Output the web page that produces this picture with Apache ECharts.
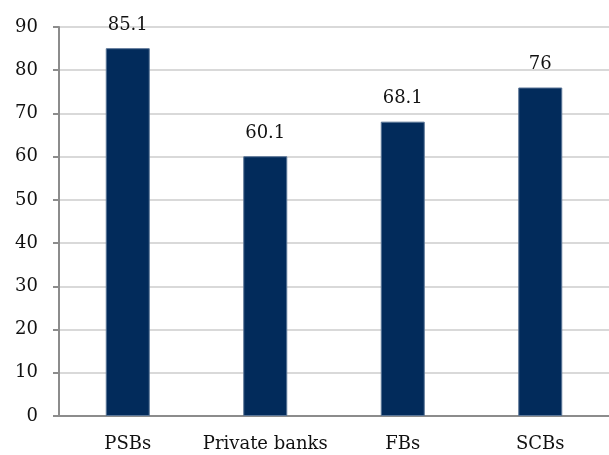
<!DOCTYPE html>
<html><head><meta charset="utf-8">
<script src="https://cdn.jsdelivr.net/npm/echarts@6/dist/echarts.min.js"></script>
<style>html,body{margin:0;padding:0;background:#fff}#c{width:609px;height:455px}</style>
</head><body><div id="c"></div>
<script>
const categories = ["PSBs", "Private banks", "FBs", "SCBs"];
const values = [85.1, 60.1, 68.1, 76];
const yTicks = {min: 0, max: 90, interval: 10};
const font = "DejaVu Serif";
const chart = echarts.init(document.getElementById('c'), null, {renderer: 'canvas'});
chart.setOption({
  animation: false,
  grid: {left: 59, top: 27, width: 562, height: 389},
  xAxis: {
    type: 'category', data: categories,
    axisLine: {lineStyle: {color: '#8c8c8c', width: 2}},
    axisTick: {show: false},
    axisLabel: {color: '#111', fontFamily: font, fontSize: 18, margin: 19, interval: 0}
  },
  yAxis: {
    type: 'value', min: yTicks.min, max: yTicks.max, interval: yTicks.interval,
    axisLine: {show: true, lineStyle: {color: '#8c8c8c', width: 2}},
    axisTick: {show: true, length: 6, lineStyle: {color: '#8c8c8c', width: 2}},
    splitLine: {lineStyle: {color: '#d9d9d9', width: 2}},
    axisLabel: {color: '#111', fontFamily: font, fontSize: 18, margin: 21}
  },
  series: [{
    type: 'bar', data: values, barWidth: 44,
    itemStyle: {color: '#022b5b', borderColor: '#5a7596', borderWidth: 1},
    label: {show: true, position: 'top', distance: 14, color: '#111', fontFamily: font, fontSize: 18}
  }]
});
</script></body></html>
